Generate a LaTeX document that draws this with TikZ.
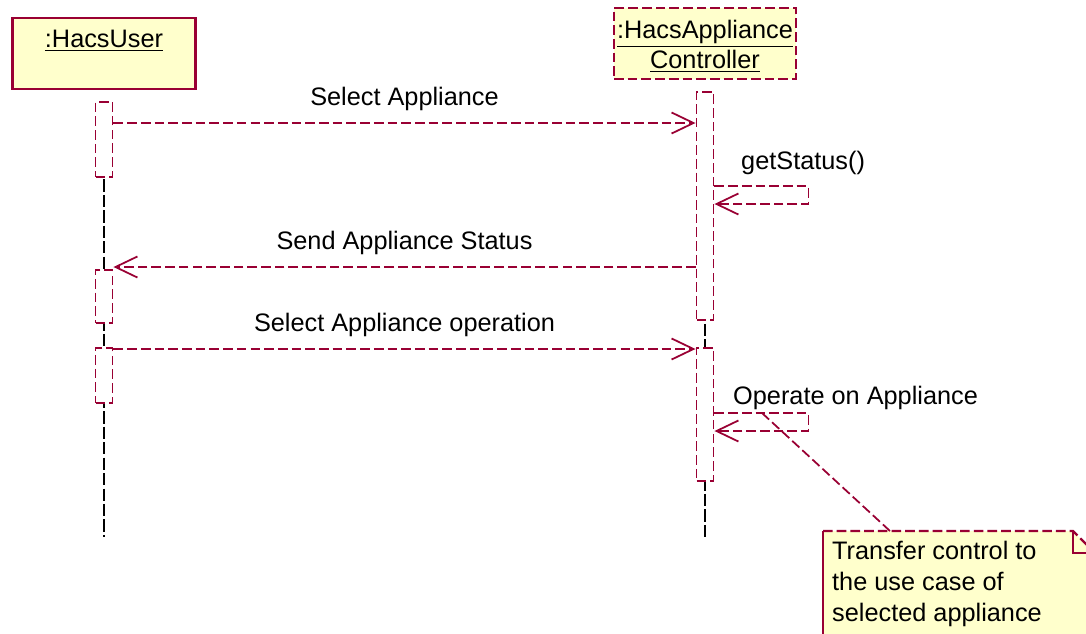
\documentclass[tikz,border=0pt]{standalone}
\usepackage{fontspec}
\setmainfont{Liberation Sans}
\usetikzlibrary{positioning}
\usetikzlibrary{arrows.meta}
\usetikzlibrary{calc}
\definecolor{umlred}{RGB}{153,0,51}
\definecolor{umlnote}{RGB}{255,255,204}
\tikzstyle{object}=[draw=umlred,fill=umlnote,line width=1.3pt,minimum width=3.66cm,minimum height=1.42cm,inner sep=0pt]
\tikzstyle{activation}=[draw=umlred,fill=white,line width=1.1pt,dash pattern=on 5.5pt off 2.3pt,minimum width=0.34cm,inner sep=0pt]
\tikzstyle{lifeline}=[draw=black,line width=1pt,dash pattern=on 7pt off 1.8pt]
\tikzstyle{message}=[draw=umlred,line width=1pt,dash pattern=on 5.5pt off 2.3pt,-{Straight Barb[length=12.5pt,width=12pt,line width=1pt]}]
\tikzstyle{msglabel}=[font=\fontsize{14.4}{17}\selectfont,text=black]

\begin{document}
\begin{tikzpicture}[x=0.02cm,y=-0.02cm]
  \useasboundingbox (0,0) rectangle (1086,633);

  % objects
  \node[object] (user) at (104,53.5) {};
  \node[object,dash pattern=on 5.5pt off 2.3pt,minimum width=3.64cm] (ctrl) at (705,43.5) {};
  \node[msglabel] (userlbl) at (104,41) {\underline{:HacsUser}};
  \node[msglabel,align=center] (ctrllbl) at (705,46) {\underline{:HacsAppliance}\\\underline{Controller}};

  \foreach \name/\x/\top/\bot in {ua1/104/102/177, ua2/104/270/323, ua3/104/348/403, ca1/705/92/320, ca2/705/348/481}
     \coordinate (\name top) at (\x,\top);

  % lifelines
  \coordinate (userend) at (104,537);
  \coordinate (ctrlend) at (705,537);
  \draw[lifeline] (ua1top) -- (userend);
  \draw[lifeline] (ca1top) -- (ctrlend);

  \foreach \name/\x/\top/\bot in {ua1/104/102/177, ua2/104/270/323, ua3/104/348/403, ca1/705/92/320, ca2/705/348/481}
     \node[activation,minimum height={(\bot-\top)*0.02cm}] (\name) at (\x,{(\top+\bot)/2}) {};

  \foreach \name/\y in {m1/123, m2/186, m3/204, m4/267, m5/349, m6/413, m7/431}
     \coordinate (\name) at (0,\y);

  % messages
  \draw[message] (ua1.east |- m1) -- node[msglabel,above=3pt] {Select Appliance} (ca1.west |- m1);
  \draw[message] (ca1.east |- m2) -- ++(94,0) |- (ca1.east |- m3);
  \node[msglabel,anchor=west] (getst) at (735,163) {getStatus()};
  \draw[message] (ca1.west |- m4) -- node[msglabel,above=3pt] {Send Appliance Status} (ua2.east |- m4);
  \draw[message] (ua3.east |- m5) -- node[msglabel,above=3pt] {Select Appliance operation} (ca2.west |- m5);
  \draw[message] (ca2.east |- m6) -- ++(94,0) |- (ca2.east |- m7);
  \node[msglabel,anchor=west] (operate) at (727,398) {Operate on Appliance};

  % note
  \fill[umlnote] (823,645) -- (823,531) -- (1073,531) -- (1095,553) -- (1095,645) -- cycle;
  \draw[umlred,line width=1.3pt] (823,645) -- (823,531);
  \draw[umlred,line width=1.3pt,dash pattern=on 5.5pt off 2.3pt] (823,531) -- (1073,531) -- (1095,553);
  \draw[umlred,line width=1.3pt] (1073,531) |- (1095,553);
  \node[msglabel,align=left,anchor=west,font=\fontsize{14.4}{17.6}\selectfont] (notetxt) at (826,584) {Transfer control to\\the use case of\\selected appliance};

  \coordinate (notefrom) at (762,413);
  \coordinate (noteto) at (890,531);
  \draw[umlred,line width=1pt,dash pattern=on 5.5pt off 2.3pt] (notefrom) -- (noteto);
\end{tikzpicture}
\end{document}
